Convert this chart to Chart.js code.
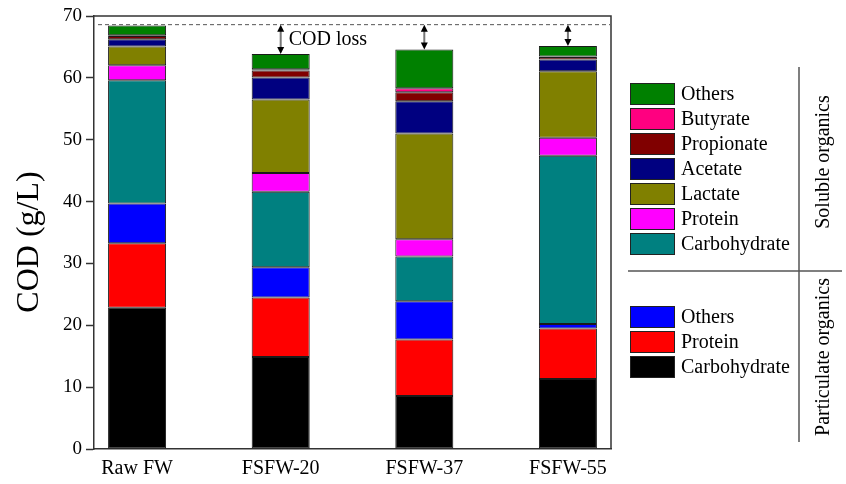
<!DOCTYPE html>
<html>
<head>
<meta charset="utf-8">
<script src="https://cdn.jsdelivr.net/npm/chart.js@4.4.1/dist/chart.umd.min.js"></script>
<style>
  html, body { margin: 0; padding: 0; background: #fff; }
  #wrap { width: 846px; height: 484px; position: relative; }
</style>
</head>
<body>
<div id="wrap"><canvas id="c" width="846" height="484"></canvas></div>
<script>
// ---- data ----
const categories = ["Raw FW", "FSFW-20", "FSFW-37", "FSFW-55"];
const partCarb    = [22.85, 14.87, 8.57, 11.3];
const partProt    = [10.4, 9.63, 9.13, 8.18];
const partOthers  = [6.45, 4.9, 6.2, 0.72];
const solCarb     = [19.9, 12.2, 7.2, 27.2];
const solProt     = [2.45, 3.0, 2.8, 2.9];
const lactate     = [3.0, 11.9, 17.1, 10.75];
const acetate     = [1.2, 3.55, 5.2, 1.91];
const propionate  = [0.5, 1.15, 1.46, 0.41];
const butyrate    = [0.15, 0.2, 0.64, 0.08];
const solOthers   = [1.55, 2.45, 6.3, 1.7];
const yTicks      = [0, 10, 20, 30, 40, 50, 60, 70];
const codLossLevel = 68.6;
const yTitle = "COD (g/L)";
const lossLabel = "COD loss";
const solubleTitle = "Soluble organics";
const particulateTitle = "Particulate organics";

const FONT = '"Liberation Serif", "Times New Roman", serif';

const seriesDefs = [
  { label: "Carbohydrate", data: partCarb,   color: "#000000", group: "p" },
  { label: "Protein",      data: partProt,   color: "#FF0000", group: "p" },
  { label: "Others",       data: partOthers, color: "#0000FF", group: "p" },
  { label: "Carbohydrate", data: solCarb,    color: "#008080", group: "s" },
  { label: "Protein",      data: solProt,    color: "#FF00FF", group: "s" },
  { label: "Lactate",      data: lactate,    color: "#808000", group: "s" },
  { label: "Acetate",      data: acetate,    color: "#000080", group: "s" },
  { label: "Propionate",   data: propionate, color: "#800000", group: "s" },
  { label: "Butyrate",     data: butyrate,   color: "#FF0080", group: "s" },
  { label: "Others",       data: solOthers,  color: "#008000", group: "s" }
];

const datasets = seriesDefs.map(s => ({
  label: s.label,
  group: s.group,
  data: s.data.map((v, i) => ({ x: i, y: v })),
  backgroundColor: s.color,
  borderColor: "#1a1a1a",
  borderWidth: 1,
  borderSkipped: false,
  categoryPercentage: 0.404,
  barPercentage: 1.0
}));

const totals = categories.map((_, i) => seriesDefs.reduce((a, s) => a + s.data[i], 0));

const decorPlugin = {
  id: "decor",
  afterDatasetsDraw(chart) {
    const { ctx, chartArea: ca, scales: { x, y } } = chart;
    ctx.save();
    // frame top & right
    ctx.strokeStyle = "#333";
    ctx.lineWidth = 1.5;
    ctx.beginPath();
    ctx.moveTo(ca.left, ca.top);
    ctx.lineTo(ca.right, ca.top);
    ctx.lineTo(ca.right, ca.bottom);
    ctx.stroke();

    // dashed COD reference line
    const yl = y.getPixelForValue(codLossLevel);
    ctx.strokeStyle = "#555";
    ctx.lineWidth = 1;
    ctx.setLineDash([4, 3]);
    ctx.beginPath();
    ctx.moveTo(ca.left + 4, yl);
    ctx.lineTo(ca.right - 1, yl);
    ctx.stroke();
    ctx.setLineDash([]);

    // arrows
    for (let i = 1; i < categories.length; i++) {
      const px = x.getPixelForValue(i);
      const yb = y.getPixelForValue(totals[i]);
      const yt = yl;
      ctx.strokeStyle = "#777";
      ctx.lineWidth = 2;
      ctx.beginPath();
      ctx.moveTo(px, yt + 4);
      ctx.lineTo(px, yb - 4);
      ctx.stroke();
      ctx.fillStyle = "#000";
      const ah = Math.min(7, (yb - yt) / 2.5), aw = 3.5;
      ctx.beginPath();
      ctx.moveTo(px, yt); ctx.lineTo(px - aw, yt + ah); ctx.lineTo(px + aw, yt + ah); ctx.closePath();
      ctx.fill();
      ctx.beginPath();
      ctx.moveTo(px, yb); ctx.lineTo(px - aw, yb - ah); ctx.lineTo(px + aw, yb - ah); ctx.closePath();
      ctx.fill();
    }
    // COD loss label
    ctx.fillStyle = "#000";
    ctx.font = "20px " + FONT;
    ctx.textAlign = "left";
    ctx.textBaseline = "middle";
    ctx.fillText(lossLabel, x.getPixelForValue(1) + 8, y.getPixelForValue(codLossLevel) + 15);

    // y axis title
    ctx.save();
    ctx.translate(30, 242);
    ctx.rotate(-Math.PI / 2);
    ctx.font = "32px " + FONT;
    ctx.textAlign = "center";
    ctx.textBaseline = "middle";
    ctx.fillText(yTitle, 0, 0);
    ctx.restore();

    // legend
    const ds = chart.data.datasets;
    const sol = ds.filter(d => d.group === "s").slice().reverse();
    const par = ds.filter(d => d.group === "p").slice().reverse();
    const boxX = 630, boxW = 45, boxH = 22, step = 25, textX = 681;
    ctx.font = "20px " + FONT;
    ctx.textAlign = "left";
    ctx.textBaseline = "middle";
    const drawGroup = (list, top) => {
      list.forEach((d, k) => {
        const by = top + k * step;
        ctx.fillStyle = d.backgroundColor;
        ctx.fillRect(boxX, by, boxW, boxH);
        ctx.strokeStyle = "#222";
        ctx.lineWidth = 1;
        ctx.strokeRect(boxX + 0.5, by + 0.5, boxW - 1, boxH - 1);
        ctx.fillStyle = "#000";
        ctx.fillText(d.label, textX, by + boxH / 2 + 1);
      });
    };
    drawGroup(sol, 83);
    drawGroup(par, 306);

    // separators
    ctx.strokeStyle = "#555";
    ctx.lineWidth = 1.5;
    ctx.beginPath();
    ctx.moveTo(799, 67); ctx.lineTo(799, 442);
    ctx.moveTo(628, 271); ctx.lineTo(842, 271);
    ctx.stroke();

    // group titles
    ctx.fillStyle = "#000";
    ctx.font = "20px " + FONT;
    ctx.textAlign = "center";
    [[solubleTitle, 162], [particulateTitle, 357]].forEach(([t, cy]) => {
      ctx.save();
      ctx.translate(824, cy);
      ctx.rotate(-Math.PI / 2);
      ctx.fillText(t, 0, 0);
      ctx.restore();
    });
    ctx.restore();
  }
};

new Chart(document.getElementById("c"), {
  type: "bar",
  data: { datasets },
  plugins: [decorPlugin],
  options: {
    responsive: false,
    animation: false,
    layout: { padding: { left: 0, top: 16, right: 235, bottom: 0 } },
    plugins: { legend: { display: false }, tooltip: { enabled: false } },
    scales: {
      x: {
        type: "linear",
        stacked: true,
        offset: false,
        min: -0.3,
        max: 3.3,
        afterBuildTicks: s => { s.ticks = categories.map((_, i) => ({ value: i })); },
        afterFit: s => { s.height = 35; },
        grid: { display: true, offset: false, drawOnChartArea: false, drawTicks: false },
        border: { display: true, color: "#333", width: 1.5 },
        ticks: {
          color: "#000",
          padding: 8,
          font: { family: FONT, size: 20 },
          callback: v => categories[v] ?? ""
        }
      },
      y: {
        stacked: true,
        min: 0,
        max: 70,
        afterBuildTicks: s => { s.ticks = yTicks.map(v => ({ value: v })); },
        afterFit: s => { s.width = 94; },
        grid: { display: true, drawOnChartArea: false, drawTicks: true, tickLength: 8, tickColor: "#333", tickWidth: 1.5 },
        border: { display: true, color: "#333", width: 1.5 },
        ticks: {
          color: "#000",
          padding: 4,
          font: { family: FONT, size: 19 }
        }
      }
    }
  }
});
</script>
</body>
</html>
